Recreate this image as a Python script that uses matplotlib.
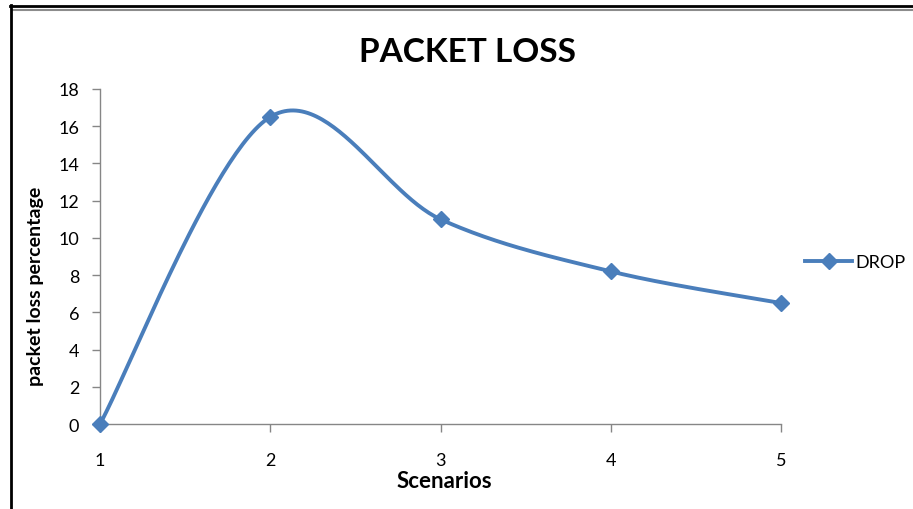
import numpy as np
import matplotlib

matplotlib.use("Agg")
import matplotlib.pyplot as plt
from matplotlib.lines import Line2D

plt.rcParams["font.family"] = ["Lato", "DejaVu Sans"]

scenarios = [1, 2, 3, 4, 5]
drop = [0.0, 16.5, 11.0, 8.2, 6.5]
y_ticks = [0, 2, 4, 6, 8, 10, 12, 14, 16, 18]

LINE_COLOR = "#4a7ebb"
AXIS_COLOR = "#868686"


def smooth_curve(xs, ys, steps=60):
    # spreadsheet-style smoothing: cubic Bezier with Catmull-Rom control points
    pts = np.column_stack([xs, ys]).astype(float)
    padded = np.vstack([pts[0], pts, pts[-1]])
    t = np.linspace(0.0, 1.0, steps)[:, None]
    out = [pts[:1]]
    for i in range(len(pts) - 1):
        p0, p1, p2, p3 = padded[i], padded[i + 1], padded[i + 2], padded[i + 3]
        c1 = p1 + (p2 - p0) / 6.0
        c2 = p2 - (p3 - p1) / 6.0
        seg = ((1 - t) ** 3) * p1 + 3 * ((1 - t) ** 2) * t * c1 + 3 * (1 - t) * t ** 2 * c2 + t ** 3 * p2
        out.append(seg[1:])
    curve = np.vstack(out)
    return curve[:, 0], curve[:, 1]


fig = plt.figure(figsize=(9.13, 5.10), dpi=100)
ax = fig.add_axes([100 / 913, 1 - 425 / 510, 681 / 913, 335 / 510])

cx, cy = smooth_curve(scenarios, drop)
ax.plot(cx, cy, color=LINE_COLOR, lw=2.8, solid_capstyle="round", clip_on=False, zorder=3)
ax.plot(scenarios, drop, linestyle="none", marker="D", markersize=8,
        color=LINE_COLOR, clip_on=False, zorder=4)

ax.set_xlim(1, 5)
ax.set_ylim(0, 18)
ax.set_xticks(scenarios)
ax.set_yticks(y_ticks)
ax.tick_params(axis="both", colors=AXIS_COLOR, labelcolor="black", labelsize=13, length=6, width=1)
ax.tick_params(axis="x", pad=14)
ax.tick_params(axis="y", pad=9)
for side in ["top", "right"]:
    ax.spines[side].set_visible(False)
for side in ["left", "bottom"]:
    ax.spines[side].set_color(AXIS_COLOR)
    ax.spines[side].set_linewidth(1)

xlab = ax.set_xlabel("Scenarios", fontsize=16, fontweight="bold")
xlab.set_va("center")
ax.xaxis.set_label_coords((444 - 100) / 681, (425 - 482) / 335)
ylab = ax.set_ylabel("packet loss percentage", fontsize=14, fontweight="bold")
ylab.set_va("center")
ax.yaxis.set_label_coords((36 - 100) / 681, (425 - 286) / 335)

fig.text(467 / 913, 1 - 52 / 510, "PACKET LOSS", fontsize=24, fontweight="bold",
         ha="center", va="center")

handle = Line2D([], [], color=LINE_COLOR, lw=2.8, marker="D", markersize=8)
fig.legend([handle], ["DROP"], loc="center left", bbox_to_anchor=(798 / 913, 1 - 263 / 510),
           frameon=False, fontsize=13, handlelength=2.6, handletextpad=0.2, borderaxespad=0)

# frame lines along the top and left edges
fig.add_artist(Line2D([10 / 913, 1], [1 - 7 / 510] * 2, transform=fig.transFigure, color="black", lw=2))
fig.add_artist(Line2D([12 / 913, 1], [1 - 11 / 510] * 2, transform=fig.transFigure, color="#8c8c8c", lw=1.5))
fig.add_artist(Line2D([11 / 913] * 2, [0, 1 - 6 / 510], transform=fig.transFigure, color="black", lw=2))

fig.savefig("out.png", dpi=100)
